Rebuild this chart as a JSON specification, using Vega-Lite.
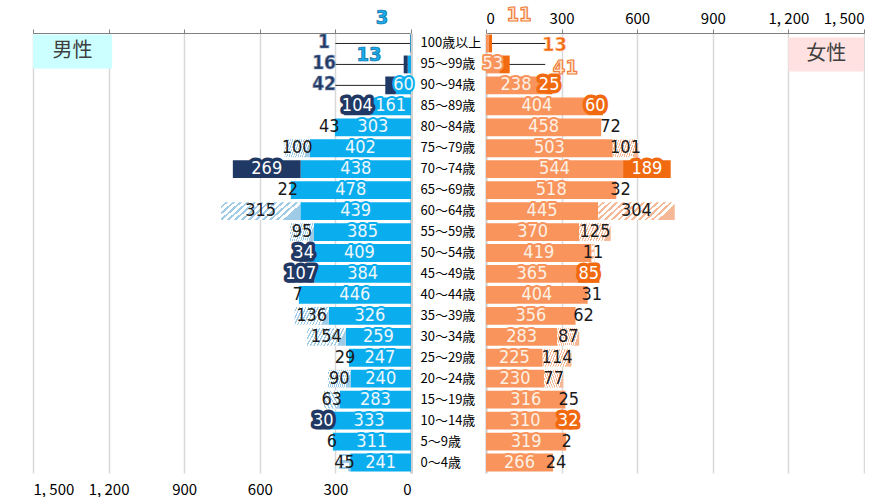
{
  "$schema": "https://vega.github.io/schema/vega-lite/v6.json",
  "background": "white",
  "padding": {"left": 32, "top": 5, "right": 0, "bottom": 0},
  "spacing": 75,
  "bounds": "flush",
  "config": {"view": {"stroke": null}, "axis": {"labelFont": "Noto Sans CJK JP"}},
  "datasets": {
    "male": [
      {"age": "100歳以上", "main": 3, "extra": 1, "group": "B"},
      {"age": "95～99歳", "main": 13, "extra": 16, "group": "B"},
      {"age": "90～94歳", "main": 60, "extra": 42, "group": "B"},
      {"age": "85～89歳", "main": 161, "extra": 104, "group": "B"},
      {"age": "80～84歳", "main": 303, "extra": 43, "group": "D"},
      {"age": "75～79歳", "main": 402, "extra": 100, "group": "C"},
      {"age": "70～74歳", "main": 438, "extra": 269, "group": "B"},
      {"age": "65～69歳", "main": 478, "extra": 22, "group": "D"},
      {"age": "60～64歳", "main": 439, "extra": 315, "group": "C"},
      {"age": "55～59歳", "main": 385, "extra": 95, "group": "C"},
      {"age": "50～54歳", "main": 409, "extra": 34, "group": "B"},
      {"age": "45～49歳", "main": 384, "extra": 107, "group": "B"},
      {"age": "40～44歳", "main": 446, "extra": 7, "group": "D"},
      {"age": "35～39歳", "main": 326, "extra": 136, "group": "C"},
      {"age": "30～34歳", "main": 259, "extra": 154, "group": "C"},
      {"age": "25～29歳", "main": 247, "extra": 29, "group": "D"},
      {"age": "20～24歳", "main": 240, "extra": 90, "group": "C"},
      {"age": "15～19歳", "main": 283, "extra": 63, "group": "C"},
      {"age": "10～14歳", "main": 333, "extra": 30, "group": "B"},
      {"age": "5～9歳", "main": 311, "extra": 6, "group": "D"},
      {"age": "0～4歳", "main": 241, "extra": 45, "group": "C"}
    ],
    "female": [
      {"age": "100歳以上", "main": 11, "extra": 13, "group": "B"},
      {"age": "95～99歳", "main": 53, "extra": 41, "group": "B"},
      {"age": "90～94歳", "main": 238, "extra": 25, "group": "B"},
      {"age": "85～89歳", "main": 404, "extra": 60, "group": "B"},
      {"age": "80～84歳", "main": 458, "extra": 72, "group": "D"},
      {"age": "75～79歳", "main": 503, "extra": 101, "group": "C"},
      {"age": "70～74歳", "main": 544, "extra": 189, "group": "B"},
      {"age": "65～69歳", "main": 518, "extra": 32, "group": "D"},
      {"age": "60～64歳", "main": 445, "extra": 304, "group": "C"},
      {"age": "55～59歳", "main": 370, "extra": 125, "group": "C"},
      {"age": "50～54歳", "main": 419, "extra": 11, "group": "C"},
      {"age": "45～49歳", "main": 365, "extra": 85, "group": "B"},
      {"age": "40～44歳", "main": 404, "extra": 31, "group": "D"},
      {"age": "35～39歳", "main": 356, "extra": 62, "group": "D"},
      {"age": "30～34歳", "main": 283, "extra": 87, "group": "C"},
      {"age": "25～29歳", "main": 225, "extra": 114, "group": "C"},
      {"age": "20～24歳", "main": 230, "extra": 77, "group": "C"},
      {"age": "15～19歳", "main": 316, "extra": 25, "group": "D"},
      {"age": "10～14歳", "main": 310, "extra": 32, "group": "B"},
      {"age": "5～9歳", "main": 319, "extra": 2, "group": "D"},
      {"age": "0～4歳", "main": 266, "extra": 24, "group": "D"}
    ]
  },
  "hconcat": [
    {
      "width": 378,
      "height": 440,
      "data": {"name": "male"},
      "resolve": {"axis": {"x": "independent"}},
      "layer": [
        {
          "data": {"values": [{"sex": "男性"}]},
          "mark": {"type": "bar", "height": 34, "yOffset": -13, "fill": "#CCFFFF"},
          "encoding": {
            "x": {"datum": 1500, "type": "quantitative", "axis": null},
            "x2": {"datum": 1186},
            "y": {"datum": "95～99歳", "type": "nominal"}
          }
        },
        {
          "data": {"values": [{"sex": "男性"}]},
          "mark": {"type": "text", "font": "Noto Sans CJK JP", "fontSize": 20, "color": "#404040", "dy": -13},
          "encoding": {
            "x": {"datum": 1343, "type": "quantitative", "axis": null},
            "y": {"datum": "95～99歳", "type": "nominal"},
            "text": {"field": "sex"}
          }
        },
        {
          "transform": [{"filter": "datum.age==='100歳以上' || datum.age==='95～99歳' || datum.age==='90～94歳'"}],
          "mark": {"type": "rule", "color": "#222", "strokeWidth": 1},
          "encoding": {
            "x": {"field": "main", "type": "quantitative", "axis": null},
            "x2": {"datum": 300},
            "y": {"field": "age", "type": "nominal"}
          }
        },
        {
          "transform": [{"fold": ["main", "extra"], "as": ["key", "value"]}],
          "mark": {"type": "bar"},
          "encoding": {
            "y": {
              "field": "age", "type": "nominal",
              "scale": {"domain": ["100歳以上","95～99歳","90～94歳","85～89歳","80～84歳","75～79歳","70～74歳","65～69歳","60～64歳","55～59歳","50～54歳","45～49歳","40～44歳","35～39歳","30～34歳","25～29歳","20～24歳","15～19歳","10～14歳","5～9歳","0～4歳"], "paddingInner": 0.15, "paddingOuter": 0.075},
              "axis": {"orient": "right", "labels": false, "ticks": false, "domainColor": "#d0d0d0", "domainWidth": 3, "title": null}
            },
            "x": {
              "field": "value", "type": "quantitative", "stack": "zero",
              "scale": {"domain": [0, 1500], "reverse": true, "nice": false},
              "axis": {"orient": "top", "labels": false, "ticks": true, "tickSize": 4, "tickColor": "#808080", "domainColor": "#808080", "grid": true, "gridColor": "#d9d9d9", "gridWidth": 1.5, "values": [0, 300, 600, 900, 1200, 1500], "title": null}
            },
            "detail": {"field": "key"},
            "order": {"field": "key", "sort": "descending"},
            "color": {
              "condition": [
                {"test": "datum.key==='main'", "value": "#0AAEEE"},
                {"test": "datum.group==='B'", "value": "#1F3864"},
                {"test": "datum.group==='C'", "value": {"gradient": "linear", "x1": 0, "y1": 0, "x2": 1, "y2": 0.25, "stops": [
                  {"offset": 0, "color": "#FFFFFF"}, {"offset": 0.05, "color": "#FFFFFF"}, {"offset": 0.05, "color": "#9FCBE6"}, {"offset": 0.0833, "color": "#9FCBE6"},
                  {"offset": 0.0833, "color": "#FFFFFF"}, {"offset": 0.1333, "color": "#FFFFFF"}, {"offset": 0.1333, "color": "#9FCBE6"}, {"offset": 0.1667, "color": "#9FCBE6"},
                  {"offset": 0.1667, "color": "#FFFFFF"}, {"offset": 0.2167, "color": "#FFFFFF"}, {"offset": 0.2167, "color": "#9FCBE6"}, {"offset": 0.25, "color": "#9FCBE6"},
                  {"offset": 0.25, "color": "#FFFFFF"}, {"offset": 0.3, "color": "#FFFFFF"}, {"offset": 0.3, "color": "#9FCBE6"}, {"offset": 0.3333, "color": "#9FCBE6"},
                  {"offset": 0.3333, "color": "#FFFFFF"}, {"offset": 0.3833, "color": "#FFFFFF"}, {"offset": 0.3833, "color": "#9FCBE6"}, {"offset": 0.4167, "color": "#9FCBE6"},
                  {"offset": 0.4167, "color": "#FFFFFF"}, {"offset": 0.4667, "color": "#FFFFFF"}, {"offset": 0.4667, "color": "#9FCBE6"}, {"offset": 0.5, "color": "#9FCBE6"},
                  {"offset": 0.5, "color": "#FFFFFF"}, {"offset": 0.55, "color": "#FFFFFF"}, {"offset": 0.55, "color": "#9FCBE6"}, {"offset": 0.5833, "color": "#9FCBE6"},
                  {"offset": 0.5833, "color": "#FFFFFF"}, {"offset": 0.6333, "color": "#FFFFFF"}, {"offset": 0.6333, "color": "#9FCBE6"}, {"offset": 0.6667, "color": "#9FCBE6"},
                  {"offset": 0.6667, "color": "#FFFFFF"}, {"offset": 0.7167, "color": "#FFFFFF"}, {"offset": 0.7167, "color": "#9FCBE6"}, {"offset": 0.75, "color": "#9FCBE6"},
                  {"offset": 0.75, "color": "#FFFFFF"}, {"offset": 0.8, "color": "#FFFFFF"}, {"offset": 0.8, "color": "#9FCBE6"}, {"offset": 0.8333, "color": "#9FCBE6"},
                  {"offset": 0.8333, "color": "#FFFFFF"}, {"offset": 0.8833, "color": "#FFFFFF"}, {"offset": 0.8833, "color": "#9FCBE6"}, {"offset": 0.9167, "color": "#9FCBE6"},
                  {"offset": 0.9167, "color": "#FFFFFF"}, {"offset": 0.9667, "color": "#FFFFFF"}, {"offset": 0.9667, "color": "#9FCBE6"}, {"offset": 1, "color": "#9FCBE6"}
                ]}}
              ],
              "value": "#FFFFFF"
            }
          }
        },
        {
          "transform": [
            {"fold": ["main", "extra"], "as": ["key", "value"]},
            {"filter": "!(datum.age==='100歳以上' || datum.age==='95～99歳' || (datum.age==='90～94歳' && datum.key==='extra'))"}
          ],
          "mark": {"type": "text", "font": "DejaVu Sans Condensed", "fontSize": 18, "strokeJoin": "round"},
          "encoding": {
            "y": {"field": "age", "type": "nominal"},
            "x": {"field": "value", "type": "quantitative", "stack": "zero", "bandPosition": 0.5, "axis": null},
            "detail": {"field": "key"},
            "order": {"field": "key", "sort": "descending"},
            "text": {"field": "value"},
            "strokeWidth": {"condition": {"test": "datum.key==='main'", "value": 4}, "value": 7},
            "fill": {
              "condition": [
                {"test": "datum.key==='main'", "value": "#0AAEEE"},
                {"test": "datum.group==='B'", "value": "#1F3864"}
              ],
              "value": "transparent"
            },
            "stroke": {
              "condition": [
                {"test": "datum.key==='main'", "value": "#0AAEEE"},
                {"test": "datum.group==='B'", "value": "#1F3864"}
              ],
              "value": "transparent"
            }
          }
        },
        {
          "transform": [
            {"fold": ["main", "extra"], "as": ["key", "value"]},
            {"filter": "!(datum.age==='100歳以上' || datum.age==='95～99歳' || (datum.age==='90～94歳' && datum.key==='extra'))"}
          ],
          "mark": {"type": "text", "font": "DejaVu Sans Condensed", "fontSize": 18},
          "encoding": {
            "y": {"field": "age", "type": "nominal"},
            "x": {
              "field": "value", "type": "quantitative", "stack": "zero", "bandPosition": 0.5,
              "axis": {"orient": "bottom", "domain": false, "ticks": false, "grid": false, "labelPadding": 9, "labelFontSize": 15, "labelColor": "#000", "values": [0, 300, 600, 900, 1200, 1500], "labelExpr": "replace(format(datum.value, ','), ',', ', ')", "title": null}
            },
            "detail": {"field": "key"},
            "order": {"field": "key", "sort": "descending"},
            "text": {"field": "value"},
            "color": {
              "condition": [
                {"test": "datum.key==='main'", "value": "#EEF7FC"},
                {"test": "datum.group==='B'", "value": "#FFFFFF"}
              ],
              "value": "#1A1A1A"
            }
          }
        },
        {
          "transform": [{"filter": "datum.age==='100歳以上'"}],
          "mark": {"type": "text", "font": "DejaVu Sans Condensed", "fontSize": 20, "fontWeight": "bold", "fill": "#1AACEB", "stroke": "#0E6C9C", "strokeWidth": 0.7, "dy": -25},
          "encoding": {
            "x": {"datum": 115, "type": "quantitative", "axis": null},
            "y": {"field": "age", "type": "nominal"},
            "text": {"field": "main"}
          }
        },
        {
          "transform": [{"filter": "datum.age==='95～99歳'"}],
          "mark": {"type": "text", "font": "DejaVu Sans Condensed", "fontSize": 20, "fontWeight": "bold", "fill": "#1AACEB", "stroke": "#0E6C9C", "strokeWidth": 0.7, "dy": -9},
          "encoding": {
            "x": {"datum": 167, "type": "quantitative", "axis": null},
            "y": {"field": "age", "type": "nominal"},
            "text": {"field": "main"}
          }
        },
        {
          "transform": [{"filter": "datum.age==='100歳以上' || datum.age==='95～99歳' || datum.age==='90～94歳'"}],
          "mark": {"type": "text", "font": "DejaVu Sans Condensed", "fontSize": 19, "fontWeight": "bold", "fill": "#1F3864", "stroke": "#8090B0", "strokeWidth": 0.7, "dy": -1},
          "encoding": {
            "x": {"datum": 345, "type": "quantitative", "axis": null},
            "y": {"field": "age", "type": "nominal"},
            "text": {"field": "extra"}
          }
        }
      ]
    },
    {
      "width": 378,
      "height": 440,
      "data": {"name": "female"},
      "resolve": {"axis": {"x": "independent"}},
      "layer": [
        {
          "data": {"values": [{"sex": "女性"}]},
          "mark": {"type": "bar", "height": 34, "yOffset": -10, "fill": "#FFE1E1"},
          "encoding": {
            "x": {"datum": 1200, "type": "quantitative", "axis": null},
            "x2": {"datum": 1500},
            "y": {"datum": "95～99歳", "type": "nominal"}
          }
        },
        {
          "data": {"values": [{"sex": "女性"}]},
          "mark": {"type": "text", "font": "Noto Sans CJK JP", "fontSize": 20, "color": "#404040", "dy": -10},
          "encoding": {
            "x": {"datum": 1350, "type": "quantitative", "axis": null},
            "y": {"datum": "95～99歳", "type": "nominal"},
            "text": {"field": "sex"}
          }
        },
        {
          "transform": [{"filter": "datum.age==='100歳以上' || datum.age==='95～99歳'"}],
          "mark": {"type": "rule", "color": "#222", "strokeWidth": 1},
          "encoding": {
            "x": {"field": "main", "type": "quantitative", "axis": null},
            "x2": {"datum": 235},
            "y": {"field": "age", "type": "nominal"}
          }
        },
        {
          "transform": [{"fold": ["main", "extra"], "as": ["key", "value"]}],
          "mark": {"type": "bar"},
          "encoding": {
            "y": {
              "field": "age", "type": "nominal",
              "scale": {"domain": ["100歳以上","95～99歳","90～94歳","85～89歳","80～84歳","75～79歳","70～74歳","65～69歳","60～64歳","55～59歳","50～54歳","45～49歳","40～44歳","35～39歳","30～34歳","25～29歳","20～24歳","15～19歳","10～14歳","5～9歳","0～4歳"], "paddingInner": 0.15, "paddingOuter": 0.075},
              "axis": {"orient": "left", "labelAlign": "left", "labelPadding": 66, "ticks": false, "labelFont": "Noto Sans CJK JP", "labelFontSize": 13, "labelColor": "#000", "domainColor": "#d0d0d0", "domainWidth": 2, "title": null}
            },
            "x": {
              "field": "value", "type": "quantitative", "stack": "zero",
              "scale": {"domain": [0, 1500], "nice": false},
              "axis": {"orient": "top", "ticks": true, "tickSize": 4, "tickColor": "#808080", "domainColor": "#808080", "grid": true, "gridColor": "#d9d9d9", "gridWidth": 1.5, "values": [0, 300, 600, 900, 1200, 1500], "labelExpr": "replace(format(datum.value, ','), ',', ', ')", "labelFontSize": 15, "labelColor": "#000", "labelPadding": 3, "title": null}
            },
            "detail": {"field": "key"},
            "order": {"field": "key", "sort": "descending"},
            "color": {
              "condition": [
                {"test": "datum.key==='main'", "value": "#F8945C"},
                {"test": "datum.group==='B'", "value": "#F26A10"},
                {"test": "datum.group==='C'", "value": {"gradient": "linear", "x1": 0, "y1": 0, "x2": 1, "y2": 0.25, "stops": [
                  {"offset": 0, "color": "#FFFFFF"}, {"offset": 0.05, "color": "#FFFFFF"}, {"offset": 0.05, "color": "#F5B896"}, {"offset": 0.0833, "color": "#F5B896"},
                  {"offset": 0.0833, "color": "#FFFFFF"}, {"offset": 0.1333, "color": "#FFFFFF"}, {"offset": 0.1333, "color": "#F5B896"}, {"offset": 0.1667, "color": "#F5B896"},
                  {"offset": 0.1667, "color": "#FFFFFF"}, {"offset": 0.2167, "color": "#FFFFFF"}, {"offset": 0.2167, "color": "#F5B896"}, {"offset": 0.25, "color": "#F5B896"},
                  {"offset": 0.25, "color": "#FFFFFF"}, {"offset": 0.3, "color": "#FFFFFF"}, {"offset": 0.3, "color": "#F5B896"}, {"offset": 0.3333, "color": "#F5B896"},
                  {"offset": 0.3333, "color": "#FFFFFF"}, {"offset": 0.3833, "color": "#FFFFFF"}, {"offset": 0.3833, "color": "#F5B896"}, {"offset": 0.4167, "color": "#F5B896"},
                  {"offset": 0.4167, "color": "#FFFFFF"}, {"offset": 0.4667, "color": "#FFFFFF"}, {"offset": 0.4667, "color": "#F5B896"}, {"offset": 0.5, "color": "#F5B896"},
                  {"offset": 0.5, "color": "#FFFFFF"}, {"offset": 0.55, "color": "#FFFFFF"}, {"offset": 0.55, "color": "#F5B896"}, {"offset": 0.5833, "color": "#F5B896"},
                  {"offset": 0.5833, "color": "#FFFFFF"}, {"offset": 0.6333, "color": "#FFFFFF"}, {"offset": 0.6333, "color": "#F5B896"}, {"offset": 0.6667, "color": "#F5B896"},
                  {"offset": 0.6667, "color": "#FFFFFF"}, {"offset": 0.7167, "color": "#FFFFFF"}, {"offset": 0.7167, "color": "#F5B896"}, {"offset": 0.75, "color": "#F5B896"},
                  {"offset": 0.75, "color": "#FFFFFF"}, {"offset": 0.8, "color": "#FFFFFF"}, {"offset": 0.8, "color": "#F5B896"}, {"offset": 0.8333, "color": "#F5B896"},
                  {"offset": 0.8333, "color": "#FFFFFF"}, {"offset": 0.8833, "color": "#FFFFFF"}, {"offset": 0.8833, "color": "#F5B896"}, {"offset": 0.9167, "color": "#F5B896"},
                  {"offset": 0.9167, "color": "#FFFFFF"}, {"offset": 0.9667, "color": "#FFFFFF"}, {"offset": 0.9667, "color": "#F5B896"}, {"offset": 1, "color": "#F5B896"}
                ]}}
              ],
              "value": "#FFFFFF"
            }
          }
        },
        {
          "transform": [
            {"fold": ["main", "extra"], "as": ["key", "value"]},
            {"filter": "!(datum.age==='100歳以上' || (datum.age==='95～99歳' && datum.key==='extra'))"}
          ],
          "mark": {"type": "text", "font": "DejaVu Sans Condensed", "fontSize": 18, "strokeJoin": "round"},
          "encoding": {
            "y": {"field": "age", "type": "nominal"},
            "x": {"field": "value", "type": "quantitative", "stack": "zero", "bandPosition": 0.5, "axis": null},
            "detail": {"field": "key"},
            "order": {"field": "key", "sort": "descending"},
            "text": {"field": "value"},
            "strokeWidth": {"condition": {"test": "datum.key==='main'", "value": 4}, "value": 7},
            "fill": {
              "condition": [
                {"test": "datum.key==='main'", "value": "#F8945C"},
                {"test": "datum.group==='B'", "value": "#F26A10"}
              ],
              "value": "transparent"
            },
            "stroke": {
              "condition": [
                {"test": "datum.key==='main'", "value": "#F8945C"},
                {"test": "datum.group==='B'", "value": "#F26A10"}
              ],
              "value": "transparent"
            }
          }
        },
        {
          "transform": [
            {"fold": ["main", "extra"], "as": ["key", "value"]},
            {"filter": "!(datum.age==='100歳以上' || (datum.age==='95～99歳' && datum.key==='extra'))"}
          ],
          "mark": {"type": "text", "font": "DejaVu Sans Condensed", "fontSize": 18},
          "encoding": {
            "y": {"field": "age", "type": "nominal"},
            "x": {"field": "value", "type": "quantitative", "stack": "zero", "bandPosition": 0.5, "axis": null},
            "detail": {"field": "key"},
            "order": {"field": "key", "sort": "descending"},
            "text": {"field": "value"},
            "color": {
              "condition": [
                {"test": "datum.key==='main'", "value": "#FDF0E4"},
                {"test": "datum.group==='B'", "value": "#FFFFFF"}
              ],
              "value": "#1A1A1A"
            }
          }
        },
        {
          "transform": [{"filter": "datum.age==='100歳以上'"}],
          "mark": {"type": "text", "font": "DejaVu Sans Condensed", "fontSize": 20, "fontWeight": "bold", "fill": "#FCE3CF", "stroke": "#F07E3A", "strokeWidth": 1.2, "dy": -28},
          "encoding": {
            "x": {"datum": 131, "type": "quantitative", "axis": null},
            "y": {"field": "age", "type": "nominal"},
            "text": {"field": "main"}
          }
        },
        {
          "transform": [{"filter": "datum.age==='100歳以上'"}],
          "mark": {"type": "text", "font": "DejaVu Sans Condensed", "fontSize": 20, "fontWeight": "bold", "fill": "#F26B12", "stroke": "#FFD9BF", "strokeWidth": 0.6, "dy": 2},
          "encoding": {
            "x": {"datum": 272, "type": "quantitative", "axis": null},
            "y": {"field": "age", "type": "nominal"},
            "text": {"field": "extra"}
          }
        },
        {
          "transform": [{"filter": "datum.age==='95～99歳'"}],
          "mark": {"type": "text", "font": "DejaVu Sans Condensed", "fontSize": 20, "fontWeight": "bold", "fill": "#FCE3CF", "stroke": "#F07E3A", "strokeWidth": 1.2, "dy": 4},
          "encoding": {
            "x": {"datum": 315, "type": "quantitative", "axis": null},
            "y": {"field": "age", "type": "nominal"},
            "text": {"field": "extra"}
          }
        }
      ]
    }
  ]
}
